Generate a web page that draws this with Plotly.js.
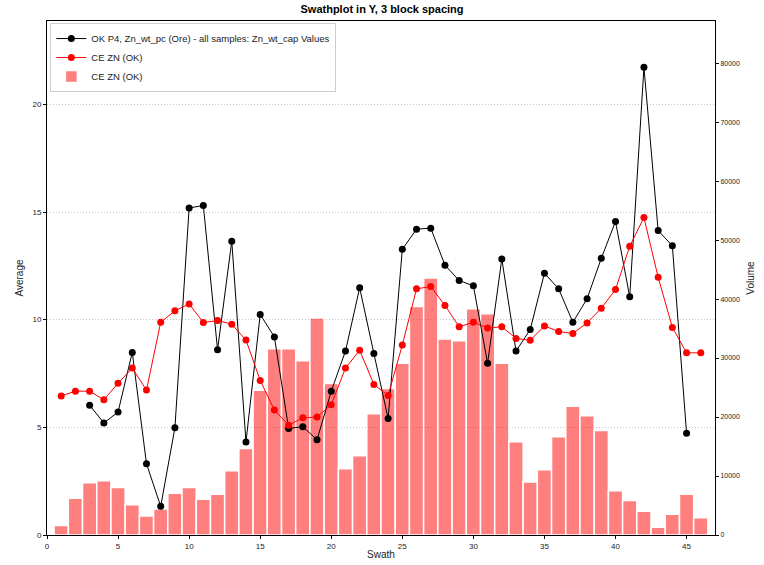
<!DOCTYPE html>
<html>
<head>
<meta charset="utf-8">
<script src="https://cdn.plot.ly/plotly-3.0.1.min.js"></script>
<style>html,body{margin:0;padding:0;background:#fff;}#chart{width:764px;height:565px;}</style>
</head>
<body>
<div id="chart"></div>
<script>
// Swath numbers
const swathOK = [3,4,5,6,7,8,9,10,11,12,13,14,15,16,17,18,19,20,21,22,23,24,25,26,27,28,29,30,31,32,33,34,35,36,37,38,39,40,41,42,43,44,45];
const avgOK = [6.03,5.2,5.71,8.48,3.31,1.33,4.98,15.19,15.3,8.6,13.64,4.32,10.24,9.2,4.95,5.03,4.42,6.68,8.54,11.48,8.43,5.41,13.27,14.2,14.25,12.53,11.82,11.57,7.98,12.82,8.54,9.54,12.16,11.43,9.88,10.97,12.85,14.56,11.06,21.72,14.14,13.43,4.73];

const swathCE = [1,2,3,4,5,6,7,8,9,10,11,12,13,14,15,16,17,18,19,20,21,22,23,24,25,26,27,28,29,30,31,32,33,34,35,36,37,38,39,40,41,42,43,44,45,46];
const avgCE = [6.46,6.68,6.68,6.28,7.05,7.75,6.73,9.88,10.41,10.73,9.87,9.96,9.79,9.05,7.18,5.8,5.1,5.44,5.48,6.05,7.75,8.58,6.99,6.48,8.82,11.43,11.54,10.66,9.67,9.88,9.61,9.67,9.13,9.04,9.71,9.45,9.36,9.85,10.53,11.4,13.41,14.74,11.97,9.64,8.46,8.46];
const volCE = [1590,6210,8870,9200,8070,5140,3220,4400,7060,8070,6040,6890,10900,14670,24530,31590,31590,29560,36780,25670,11230,13430,20540,24820,29100,38750,43550,33230,32940,38360,37510,29100,15800,8970,11070,16650,21830,20200,17720,7510,5870,4010,1300,3500,6890,2940];

const xTicks = [0,5,10,15,20,25,30,35,40,45];
const avgTicks = [0,5,10,15,20];
const volTicks = [0,10000,20000,30000,40000,50000,60000,70000,80000];

const FONT = 'Liberation Sans, Arial, sans-serif';

const traces = [
  {
    type: 'bar', x: swathCE, y: volCE, yaxis: 'y', xaxis: 'x',
    name: 'CE ZN (OK)', legendrank: 3, width: 1,
    marker: {color: 'rgba(255,0,0,0.5)', line: {color: '#ffffff', width: 1.5}}
  },
  {
    type: 'scatter', mode: 'lines+markers', x: swathOK, y: avgOK, yaxis: 'y2', xaxis: 'x',
    name: 'OK P4, Zn_wt_pc (Ore) - all samples: Zn_wt_cap Values', legendrank: 1,
    line: {color: '#000000', width: 1}, marker: {color: '#000000', size: 7}
  },
  {
    type: 'scatter', mode: 'lines+markers', x: swathCE, y: avgCE, yaxis: 'y2', xaxis: 'x',
    name: 'CE ZN (OK)', legendrank: 2,
    line: {color: '#ff0000', width: 1}, marker: {color: '#ff0000', size: 7}
  }
];

const layout = {
  width: 764, height: 565,
  margin: {l: 47, r: 49, t: 21, b: 30},
  paper_bgcolor: '#ffffff', plot_bgcolor: '#ffffff',
  font: {family: FONT, size: 8, color: '#222'},
  showlegend: true,
  title: {text: '<b>Swathplot in Y, 3 block spacing</b>', x: 0.5, xanchor: 'center', y: 0.99, yanchor: 'top',
          font: {family: FONT, size: 11, color: '#000'}},
  legend: {x: 0.005, y: 0.996, xanchor: 'left', yanchor: 'top', bgcolor: 'rgba(255,255,255,0.9)',
           bordercolor: '#cccccc', borderwidth: 1, font: {family: FONT, size: 9.5, color: '#222'},
           tracegroupgap: 0, itemwidth: 30},
  bargap: 0,
  xaxis: {
    range: [0, 47], tickvals: xTicks, ticks: 'outside', ticklen: 3, tickcolor: '#000',
    showline: true, linecolor: '#000', linewidth: 1, mirror: true, showgrid: false, zeroline: false,
    tickfont: {family: FONT, size: 8, color: '#222'},
    title: {text: 'Swath', font: {family: FONT, size: 10, color: '#222'}, standoff: 1}
  },
  yaxis: {
    range: [0, 87140], side: 'right', tickvals: volTicks, tickformat: 'd', ticks: 'outside', ticklen: 3, tickcolor: '#000',
    showline: true, linecolor: '#000', linewidth: 1, showgrid: false, zeroline: false,
    tickfont: {family: FONT, size: 7, color: '#222'},
    title: {text: 'Volume', font: {family: FONT, size: 10, color: '#222'}, standoff: 8}
  },
  yaxis2: {
    range: [0, 23.87], side: 'left', overlaying: 'y', tickvals: avgTicks, ticks: 'outside', ticklen: 3, tickcolor: '#000',
    showline: true, linecolor: '#000', linewidth: 1, showgrid: true, gridcolor: '#c4c4c4', griddash: '1px,2px', gridwidth: 1,
    zeroline: false,
    tickfont: {family: FONT, size: 8, color: '#222'},
    title: {text: 'Average', font: {family: FONT, size: 10, color: '#222'}, standoff: 6}
  }
};

Plotly.newPlot('chart', traces, layout, {staticPlot: true, displayModeBar: false});
</script>
</body>
</html>
